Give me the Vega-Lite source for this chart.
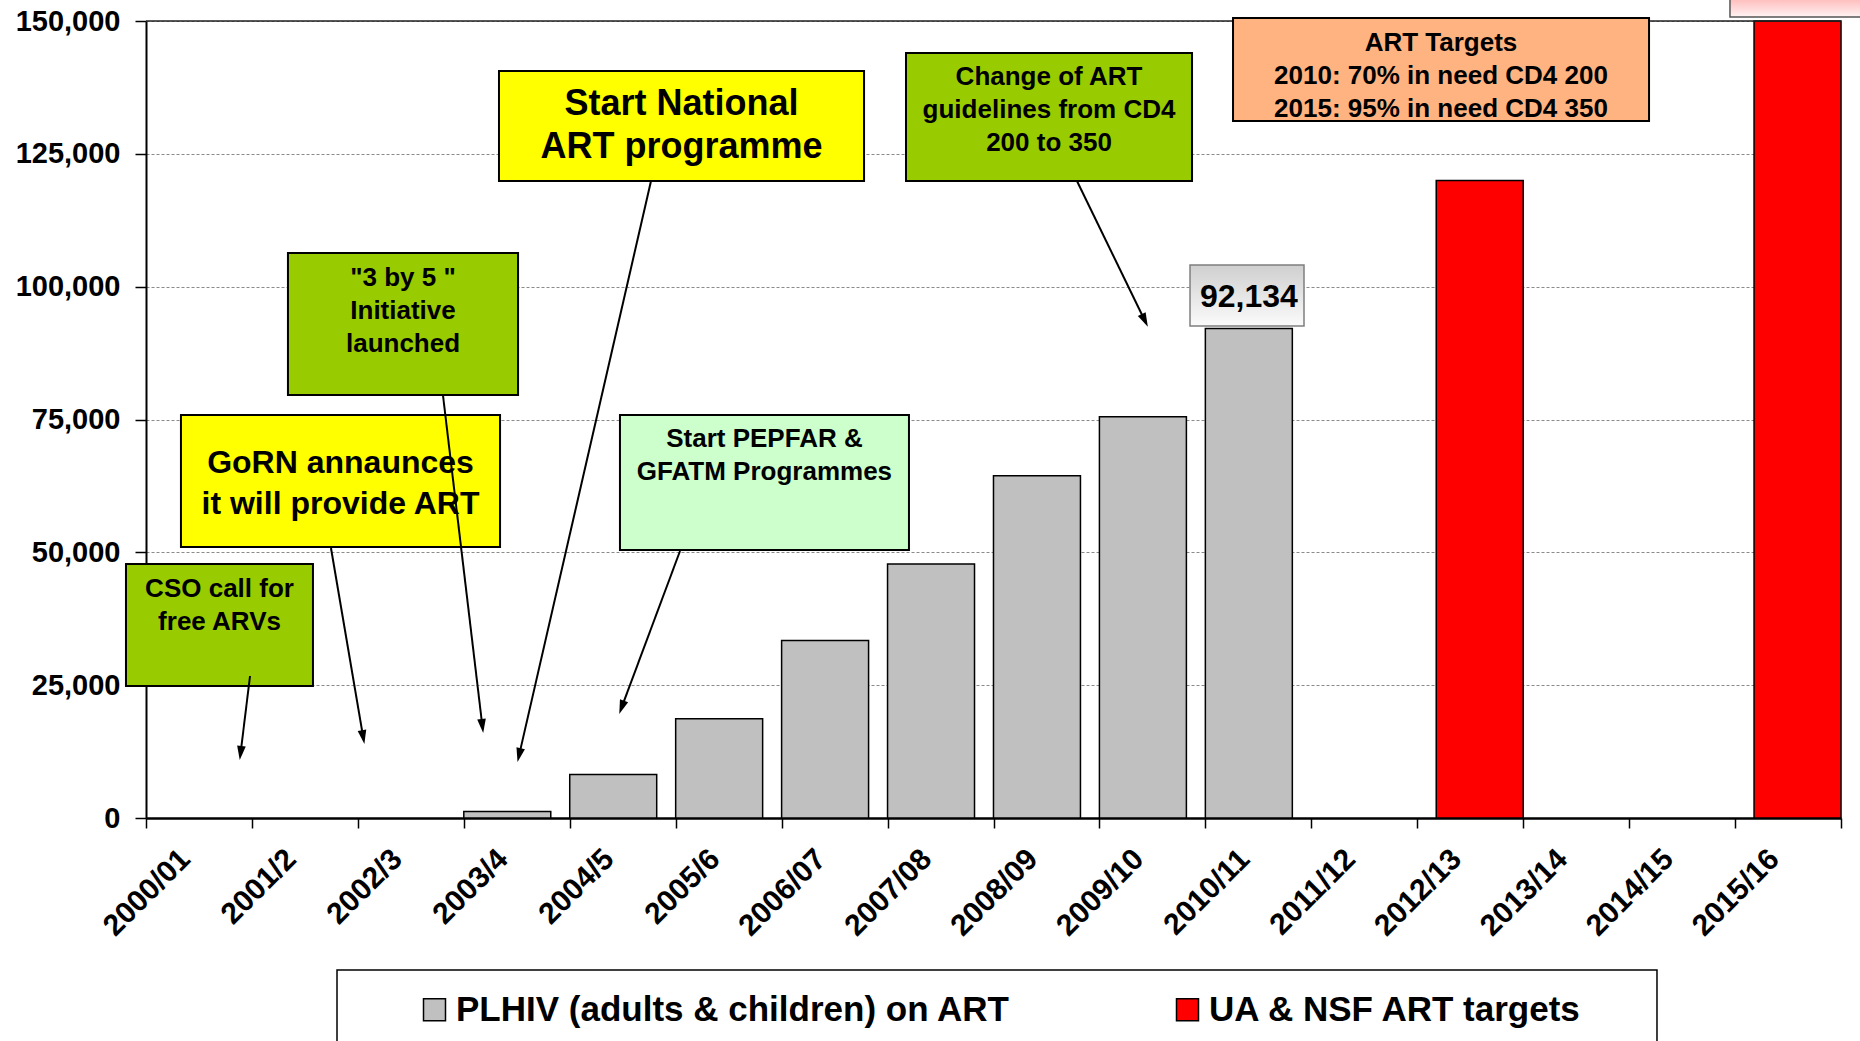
{
  "$schema": "https://vega.github.io/schema/vega-lite/v6.json",
  "width": 1695,
  "height": 797,
  "autosize": {"type": "none"},
  "padding": {"left": 146, "top": 21, "right": 19, "bottom": 223},
  "background": "white",
  "config": {
    "font": "Liberation Sans",
    "view": {"stroke": null},
    "axis": {"labelFont": "Liberation Sans", "labelFontWeight": "bold", "labelColor": "black"},
    "legend": {"labelFont": "Liberation Sans"},
    "text": {"font": "Liberation Sans"}
  },
  "datasets": {
    "art": [
      {"year": "2003/4", "series": "PLHIV (adults & children) on ART", "value": 1200},
      {"year": "2004/5", "series": "PLHIV (adults & children) on ART", "value": 8200},
      {"year": "2005/6", "series": "PLHIV (adults & children) on ART", "value": 18700},
      {"year": "2006/07", "series": "PLHIV (adults & children) on ART", "value": 33400},
      {"year": "2007/08", "series": "PLHIV (adults & children) on ART", "value": 47800},
      {"year": "2008/09", "series": "PLHIV (adults & children) on ART", "value": 64400},
      {"year": "2009/10", "series": "PLHIV (adults & children) on ART", "value": 75500},
      {"year": "2010/11", "series": "PLHIV (adults & children) on ART", "value": 92134},
      {"year": "2012/13", "series": "UA & NSF ART targets", "value": 120000},
      {"year": "2015/16", "series": "UA & NSF ART targets", "value": 150000}
    ],
    "notes": [
      {"id": "cso", "label": "CSO call for\nfree ARVs", "kind": "milestone", "emphasis": "normal", "bx1": -0.189, "bx2": 1.576, "by1": 47804, "by2": 24843, "tx": 0.694, "ty": 43099},
      {"id": "gorn", "label": "GoRN annaunces\nit will provide ART", "kind": "government", "emphasis": "large", "bx1": 0.330, "bx2": 3.342, "by1": 75847, "by2": 51004, "tx": 1.836, "ty": 66813},
      {"id": "3by5", "label": "\"3 by 5 \"\nInitiative\nlaunched", "kind": "milestone", "emphasis": "normal", "bx1": 1.340, "bx2": 3.512, "by1": 106336, "by2": 79611, "tx": 2.426, "ty": 101631},
      {"id": "national", "label": "Start National\nART programme", "kind": "government", "emphasis": "largest", "bx1": 3.332, "bx2": 6.778, "by1": 140590, "by2": 119887, "tx": 5.055, "ty": 134379},
      {"id": "pepfar", "label": "Start PEPFAR &\nGFATM Programmes", "kind": "donor", "emphasis": "normal", "bx1": 4.474, "bx2": 7.202, "by1": 75847, "by2": 50439, "tx": 5.838, "ty": 71274},
      {"id": "change", "label": "Change of ART\nguidelines from CD4\n200 to 350", "kind": "milestone", "emphasis": "normal", "bx1": 7.174, "bx2": 9.874, "by1": 143978, "by2": 119887, "tx": 8.524, "ty": 139461},
      {"id": "targets", "label": "ART Targets\n2010: 70% in need CD4 200\n2015: 95% in need CD4 350", "kind": "target", "emphasis": "normal", "bx1": 10.261, "bx2": 14.188, "by1": 150565, "by2": 131180, "tx": 12.224, "ty": 145916}
    ],
    "arrows": [
      {"id": "cso", "xf": 0.982, "yf": 26725, "xt": 0.893, "yt": 12233, "heading": 187},
      {"id": "gorn", "xf": 1.746, "yf": 50816, "xt": 2.050, "yt": 15226, "heading": 170},
      {"id": "3by5", "xf": 2.803, "yf": 79611, "xt": 3.175, "yt": 17315, "heading": 173},
      {"id": "national", "xf": 4.767, "yf": 119887, "xt": 3.522, "yt": 11838, "heading": 193},
      {"id": "pepfar", "xf": 5.041, "yf": 50251, "xt": 4.490, "yt": 20834, "heading": 200},
      {"id": "change", "xf": 8.788, "yf": 119887, "xt": 9.428, "yt": 93633, "heading": 154}
    ],
    "frames": [
      {"role": "valuebox", "fx1": 9.855, "fx2": 10.931, "fy1": 104078, "fy2": 92597},
      {"role": "targetbox", "fx1": 14.952, "fx2": 16.6, "fy1": 150753, "fy2": 160000},
      {"role": "legendbox", "fx1": 1.803, "fx2": 14.263, "fy1": -28607, "fy2": -60000}
    ]
  },
  "resolve": {"scale": {"x": "independent"}, "axis": {"y": "independent"}},
  "layer": [
    {
      "data": {"name": "art"},
      "layer": [
        {
          "transform": [{"filter": "datum.series == 'PLHIV (adults & children) on ART'"}],
          "mark": {"type": "bar", "width": {"band": 0.821}, "xOffset": -9.5, "stroke": "black", "strokeWidth": 1.5},
          "encoding": {
            "x": {
              "field": "year", "type": "nominal", "sort": null,
              "scale": {"type": "band", "domain": ["2000/01", "2001/2", "2002/3", "2003/4", "2004/5", "2005/6", "2006/07", "2007/08", "2008/09", "2009/10", "2010/11", "2011/12", "2012/13", "2013/14", "2014/15", "2015/16"], "paddingInner": 0, "paddingOuter": 0},
              "axis": {"title": null, "labelAngle": -45, "labelAlign": "right", "labelBaseline": "middle", "labelFontSize": 30, "labelFontWeight": "bold", "labelColor": "black", "labelPadding": 26, "labelOffset": -14, "labelOverlap": false, "tickBand": "extent", "tickSize": 10, "tickColor": "black", "tickWidth": 1.5, "domainColor": "black", "domainWidth": 2.5, "grid": false}
            },
            "y": {
              "field": "value", "type": "quantitative",
              "scale": {"domain": [0, 150000], "nice": false, "zero": true},
              "axis": {"title": null, "values": [0, 25000, 50000, 75000, 100000, 125000, 150000], "format": ",.0f", "labelFontSize": 29, "labelFontWeight": "bold", "labelColor": "black", "labelPadding": 15, "tickSize": 11, "tickColor": "black", "tickWidth": 1.5, "domainColor": "black", "domainWidth": 2, "grid": true, "gridColor": "#8a8a8a", "gridDash": [3, 2], "gridWidth": 1}
            },
            "color": {
              "field": "series", "type": "nominal",
              "scale": {"domain": ["PLHIV (adults & children) on ART", "UA & NSF ART targets"], "range": ["#C0C0C0", "#FF0000"]},
              "legend": {"title": null, "orient": "none", "legendX": 271, "legendY": 971, "direction": "horizontal", "symbolType": "square", "symbolSize": 484, "symbolStrokeColor": "black", "symbolStrokeWidth": 1.5, "labelFontSize": 35, "labelFontWeight": "bold", "labelColor": "black", "labelOffset": 4, "columnPadding": 159, "labelLimit": 1000, "padding": 0}
            }
          }
        },
        {
          "transform": [{"filter": "datum.series == 'UA & NSF ART targets'"}],
          "mark": {"type": "bar", "width": {"band": 0.821}, "xOffset": 9.5, "stroke": "black", "strokeWidth": 1.5},
          "encoding": {
            "x": {"field": "year", "type": "nominal", "sort": null},
            "y": {"field": "value", "type": "quantitative"},
            "color": {"field": "series", "type": "nominal"}
          }
        }
      ]
    },
    {
      "layer": [
        {
          "data": {"values": [{"top": 150000}]},
          "mark": {"type": "rule", "color": "#222222", "strokeWidth": 1.5},
          "encoding": {
            "y": {"field": "top", "type": "quantitative", "scale": {"domain": [0, 150000], "nice": false, "zero": true}, "axis": null}
          }
        },
        {
          "data": {"name": "notes"},
          "mark": {"type": "rect", "stroke": "black", "strokeWidth": 2, "clip": false},
          "encoding": {
            "x": {"field": "bx1", "type": "quantitative", "scale": {"domain": [0, 16], "nice": false, "zero": false}, "axis": null},
            "x2": {"field": "bx2"},
            "y": {"field": "by1", "type": "quantitative", "scale": {"domain": [0, 150000], "nice": false, "zero": true}, "axis": null},
            "y2": {"field": "by2"},
            "fill": {"field": "kind", "type": "nominal", "scale": {"domain": ["milestone", "government", "donor", "target"], "range": ["#99CC00", "#FFFF00", "#CCFFCC", "#FFB380"]}, "legend": null}
          }
        },
        {
          "data": {"name": "notes"},
          "transform": [{"filter": "datum.emphasis == 'normal'"}],
          "mark": {"type": "text", "fontSize": 26, "fontWeight": "bold", "color": "black", "lineBreak": "\n", "lineHeight": 33, "align": "center", "baseline": "middle"},
          "encoding": {
            "x": {"field": "tx", "type": "quantitative", "axis": null},
            "y": {"field": "ty", "type": "quantitative", "axis": null},
            "text": {"field": "label", "type": "nominal"}
          }
        },
        {
          "data": {"name": "notes"},
          "transform": [{"filter": "datum.emphasis == 'large'"}],
          "mark": {"type": "text", "fontSize": 32, "fontWeight": "bold", "color": "black", "lineBreak": "\n", "lineHeight": 41, "align": "center", "baseline": "middle"},
          "encoding": {
            "x": {"field": "tx", "type": "quantitative", "axis": null},
            "y": {"field": "ty", "type": "quantitative", "axis": null},
            "text": {"field": "label", "type": "nominal"}
          }
        },
        {
          "data": {"name": "notes"},
          "transform": [{"filter": "datum.emphasis == 'largest'"}],
          "mark": {"type": "text", "fontSize": 36, "fontWeight": "bold", "color": "black", "lineBreak": "\n", "lineHeight": 43, "align": "center", "baseline": "middle"},
          "encoding": {
            "x": {"field": "tx", "type": "quantitative", "axis": null},
            "y": {"field": "ty", "type": "quantitative", "axis": null},
            "text": {"field": "label", "type": "nominal"}
          }
        },
        {
          "data": {"name": "arrows"},
          "mark": {"type": "rule", "color": "black", "strokeWidth": 2},
          "encoding": {
            "x": {"field": "xf", "type": "quantitative", "axis": null},
            "y": {"field": "yf", "type": "quantitative", "axis": null},
            "x2": {"field": "xt"},
            "y2": {"field": "yt"}
          }
        },
        {
          "data": {"name": "arrows"},
          "mark": {"type": "point", "shape": "M0,-1L0.62,1L-0.62,1Z", "filled": true, "color": "black", "size": 196, "opacity": 1, "strokeWidth": 0},
          "encoding": {
            "x": {"field": "xt", "type": "quantitative", "axis": null},
            "y": {"field": "yt", "type": "quantitative", "axis": null},
            "angle": {"field": "heading", "type": "quantitative", "scale": {"domain": [0, 360], "range": [0, 360]}}
          }
        },
        {
          "data": {"name": "frames"},
          "transform": [{"filter": "datum.role == 'valuebox'"}],
          "mark": {"type": "rect", "stroke": "#7f7f7f", "strokeWidth": 1.5, "fill": {"gradient": "linear", "x1": 0, "y1": 0, "x2": 0, "y2": 1, "stops": [{"offset": 0, "color": "#cfcfcf"}, {"offset": 1, "color": "#fbfbfb"}]}},
          "encoding": {
            "x": {"field": "fx1", "type": "quantitative", "axis": null},
            "x2": {"field": "fx2"},
            "y": {"field": "fy1", "type": "quantitative", "axis": null},
            "y2": {"field": "fy2"}
          }
        },
        {
          "data": {"name": "frames"},
          "transform": [{"filter": "datum.role == 'targetbox'"}],
          "mark": {"type": "rect", "stroke": "#555555", "strokeWidth": 1.5, "clip": false, "fill": {"gradient": "linear", "x1": 0, "y1": 0, "x2": 0, "y2": 1, "stops": [{"offset": 0, "color": "#ff5a5a"}, {"offset": 1, "color": "#fff4f4"}]}},
          "encoding": {
            "x": {"field": "fx1", "type": "quantitative", "axis": null},
            "x2": {"field": "fx2"},
            "y": {"field": "fy1", "type": "quantitative", "axis": null},
            "y2": {"field": "fy2"}
          }
        },
        {
          "data": {"name": "frames"},
          "transform": [{"filter": "datum.role == 'legendbox'"}],
          "mark": {"type": "rect", "stroke": "black", "strokeWidth": 1.5, "fill": "white", "clip": false},
          "encoding": {
            "x": {"field": "fx1", "type": "quantitative", "axis": null},
            "x2": {"field": "fx2"},
            "y": {"field": "fy1", "type": "quantitative", "axis": null},
            "y2": {"field": "fy2"}
          }
        }
      ]
    },
    {
      "data": {"name": "art"},
      "transform": [{"filter": "datum.year == '2010/11'"}],
      "mark": {"type": "text", "fontSize": 32, "fontWeight": "bold", "color": "black", "xOffset": -9.5, "dy": -31, "align": "center", "baseline": "middle"},
      "encoding": {
        "x": {
          "field": "year", "type": "nominal", "sort": null,
          "scale": {"type": "band", "domain": ["2000/01", "2001/2", "2002/3", "2003/4", "2004/5", "2005/6", "2006/07", "2007/08", "2008/09", "2009/10", "2010/11", "2011/12", "2012/13", "2013/14", "2014/15", "2015/16"], "paddingInner": 0, "paddingOuter": 0},
          "axis": null
        },
        "y": {"field": "value", "type": "quantitative", "scale": {"domain": [0, 150000], "nice": false, "zero": true}, "axis": null},
        "text": {"field": "value", "type": "quantitative", "format": ","}
      }
    }
  ]
}
